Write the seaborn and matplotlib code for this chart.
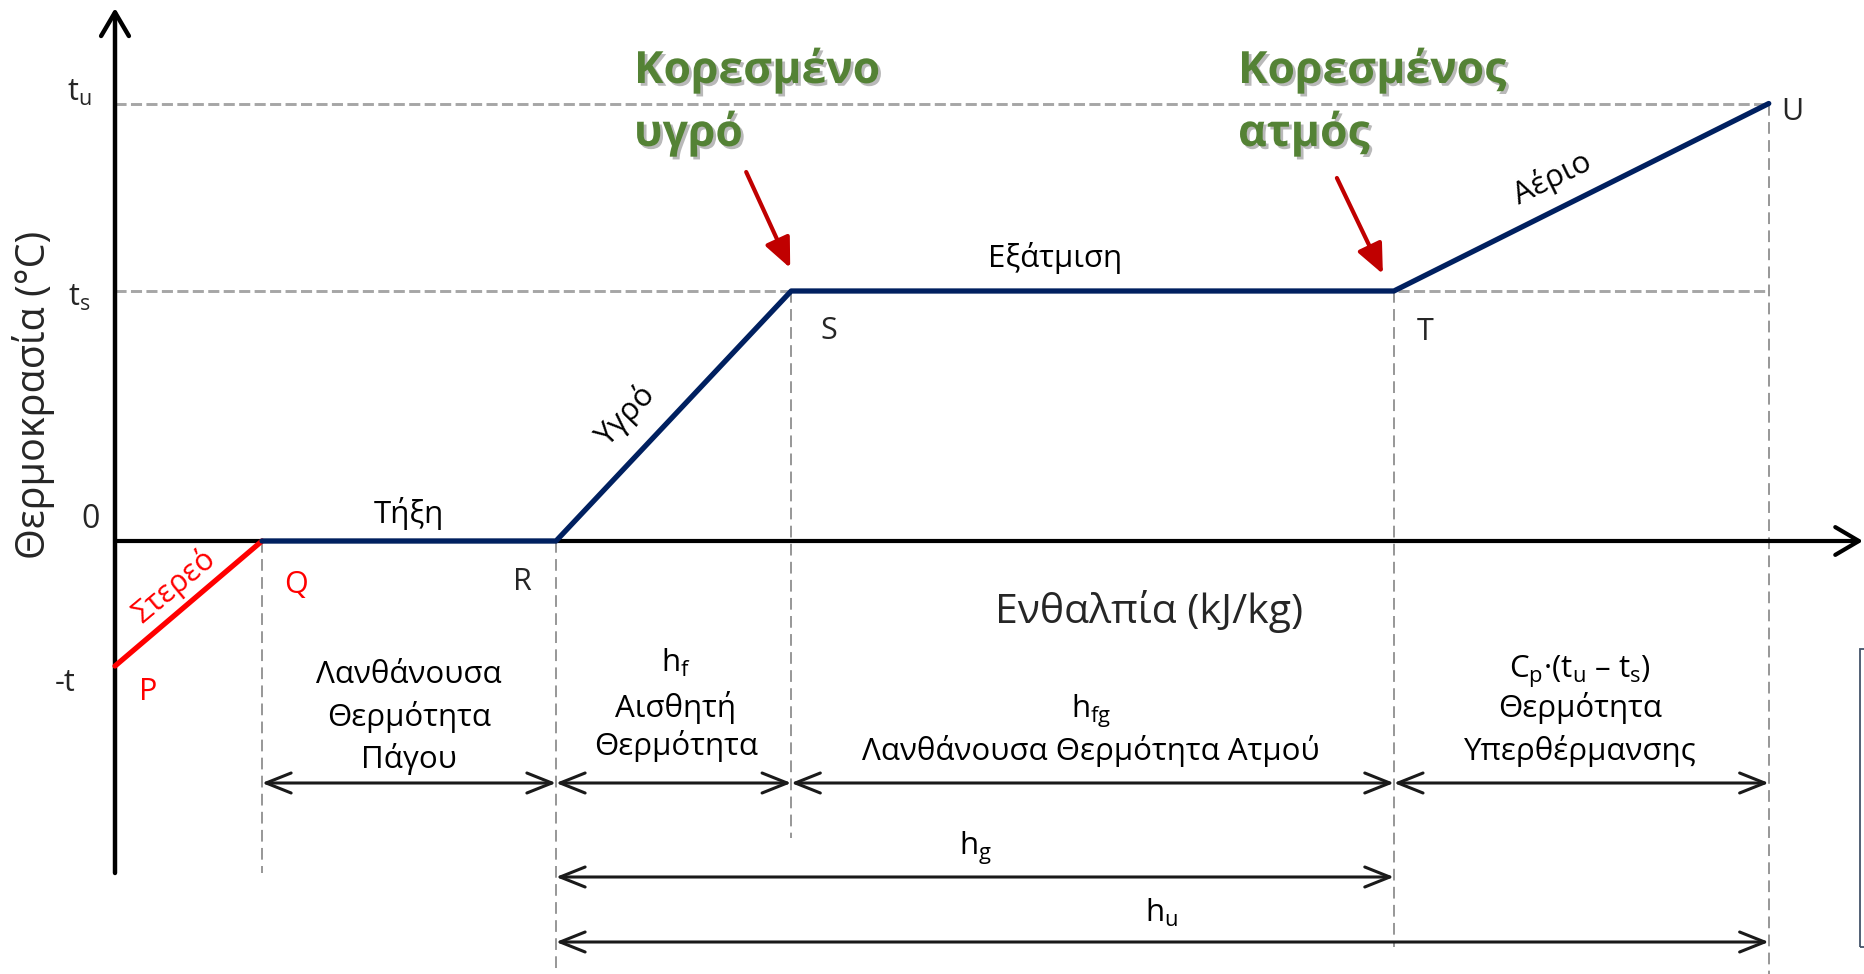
import numpy as np
import pandas as pd
import matplotlib
matplotlib.use("Agg")
import matplotlib.pyplot as plt
import seaborn as sns
from matplotlib import patheffects as pe
from matplotlib.patches import Rectangle

# ---------------- data ----------------
points = ["P", "Q", "R", "S", "T", "U"]
enthalpy = [0, 20, 60, 92, 174, 225]          # arbitrary enthalpy units
temperature = [-20, 0, 0, 40, 40, 70]         # arbitrary temperature units
phase_labels = ["Στερεό", "Τήξη", "Υγρό", "Εξάτμιση", "Αέριο"]
temp_labels = ["-t", "0", r"$\mathregular{t_s}$", r"$\mathregular{t_u}$"]
sat_labels = [("Κορεσμένο", "υγρό"), ("Κορεσμένος", "ατμός")]

sns.set_theme(style="white")
plt.rcParams["font.family"] = ["Open Sans", "DejaVu Sans"]
plt.rcParams["mathtext.fontset"] = "custom"
plt.rcParams["mathtext.rm"] = "Open Sans"

# layout scale (reference pixels per data unit) and origin in reference pixels
SX, SY = 7.35, 6.25
OX, OY = 115, 541
W, H = 1865, 974


def D(xp, yp):
    return (xp - OX) / SX, (OY - yp) / SY


fig = plt.figure(figsize=(W / 100, H / 100), dpi=100)
ax = fig.add_axes([0, 0, 1, 1])
ax.set_xlim(D(0, 0)[0], D(W, 0)[0])
ax.set_ylim(D(0, H)[1], D(0, 0)[1])
ax.axis("off")

hP, hQ, hR, hS, hT, hU = enthalpy
tP, tQ, tR, tS, tT, tU = temperature

DASH_H = dict(color="#a6a6a6", lw=2.1, linestyle=(0, (3.8, 1.5)), zorder=1)
DASH_V = dict(color="#8f8f8f", lw=1.3, linestyle=(0, (6.5, 3.5)), zorder=1)

# horizontal guides
ax.plot([0, hU], [tS, tS], **DASH_H)
ax.plot([0, hU], [tU, tU], **DASH_H)
# vertical guides
ybot = D(0, H)[1]
ax.plot([hQ, hQ], [0, D(0, 873)[1]], **DASH_V)
ax.plot([hR, hR], [0, ybot], **DASH_V)
ax.plot([hS, hS], [tS, D(0, 838)[1]], **DASH_V)
ax.plot([hT, hT], [tT, D(0, 947)[1]], **DASH_V)
ax.plot([hU, hU], [tU, ybot], **DASH_V)

# axes with arrows
ax.annotate("", xy=(0, D(0, 8)[1]), xytext=(0, D(0, 873)[1]),
            arrowprops=dict(arrowstyle="->,head_length=0.85,head_width=0.5",
                            mutation_scale=20, lw=3.2, color="black",
                            shrinkA=0, shrinkB=0), zorder=3)
ax.annotate("", xy=(D(1863, 0)[0], 0), xytext=(0, 0),
            arrowprops=dict(arrowstyle="->,head_length=0.85,head_width=0.5",
                            mutation_scale=20, lw=3.0, color="black",
                            shrinkA=0, shrinkB=0), zorder=3)

# heating curve
df = pd.DataFrame({"h": enthalpy, "t": temperature, "pt": points})
sns.lineplot(data=df.iloc[:2], x="h", y="t", color="#ff0000", lw=3.8,
             sort=False, estimator=None, ax=ax, zorder=4)
sns.lineplot(data=df.iloc[1:], x="h", y="t", color="#002060", lw=3.8,
             sort=False, estimator=None, ax=ax, zorder=4)
ax.set_xlabel("")
ax.set_ylabel("")

FS = 22.5
txt = dict(color="black", fontsize=FS)

# temperature labels
ax.text(*D(65, 683), temp_labels[0], ha="center", va="center", fontsize=22)
ax.text(*D(91, 520), temp_labels[1], ha="center", va="center", fontsize=23)
ax.text(*D(79, 298), temp_labels[2], ha="center", va="center", fontsize=22)
ax.text(*D(79, 93), temp_labels[3], ha="center", va="center", fontsize=22)
ax.text(*D(34, 395), "Θερμοκρασία (°C)", rotation=90, ha="center",
        va="center", fontsize=28.5)

# point letters
PFS = 22
ax.text(*D(148, 692), "P", ha="center", va="center", color="#ff0000", fontsize=PFS)
ax.text(*D(296, 585), "Q", ha="center", va="center", color="#ff0000", fontsize=PFS)
ax.text(*D(522, 582), "R", ha="center", va="center", fontsize=PFS)
ax.text(*D(829, 331), "S", ha="center", va="center", fontsize=PFS)
ax.text(*D(1425, 332), "T", ha="center", va="center", fontsize=PFS)
ax.text(*D(1792, 112), "U", ha="center", va="center", fontsize=PFS)

# phase labels
ax.text(*D(174, 586), phase_labels[0], rotation=39.7, rotation_mode="anchor",
        ha="center", va="center", color="#ff0000", fontsize=22)
ax.text(*D(409, 523), phase_labels[1], ha="center", va="baseline", **txt)
ax.text(*D(626, 415), phase_labels[2], rotation=46.6, rotation_mode="anchor",
        ha="center", va="center", **txt)
ax.text(*D(1055, 267), phase_labels[3], ha="center", va="baseline", **txt)
ax.text(*D(1552, 178), phase_labels[4], rotation=26.1, rotation_mode="anchor",
        ha="center", va="center", **txt)

# x axis title
ax.text(*D(1149, 623), "Ενθαλπία (kJ/kg)", ha="center", va="baseline", fontsize=29.5)

# region descriptions
for y, s in zip([683, 726, 768], ["Λανθάνουσα", "Θερμότητα", "Πάγου"]):
    ax.text(*D(409, y), s, ha="center", va="baseline", **txt)
for y, s in zip([672, 717, 755], [r"$\mathregular{h_f}$", "Αισθητή", "Θερμότητα"]):
    ax.text(*D(676, y), s, ha="center", va="baseline", **txt)
for y, s in zip([718, 760], [r"$\mathregular{h_{fg}}$", "Λανθάνουσα Θερμότητα Ατμού"]):
    ax.text(*D(1091, y), s, ha="center", va="baseline", **txt)
for y, s in zip([678, 717, 760],
                [r"$\mathregular{C_p}$·($\mathregular{t_u}$ – $\mathregular{t_s}$)",
                 "Θερμότητα", "Υπερθέρμανσης"]):
    ax.text(*D(1580, y), s, ha="center", va="baseline", **txt)
ax.text(*D(975, 855), r"$\mathregular{h_g}$", ha="center", va="baseline", **txt)
ax.text(*D(1162, 922), r"$\mathregular{h_u}$", ha="center", va="baseline", **txt)

# dimension arrows
DIM = dict(arrowstyle="<->,head_length=0.9,head_width=0.36", mutation_scale=20,
           lw=2.2, color="#1a1a1a", shrinkA=0, shrinkB=0)
y1, y2, y3 = D(0, 783)[1], D(0, 877)[1], D(0, 942)[1]
for a, b in [(hQ, hR), (hR, hS), (hS, hT), (hT, hU)]:
    ax.annotate("", xy=(b, y1), xytext=(a, y1), arrowprops=DIM)
ax.annotate("", xy=(hT, y2), xytext=(hR, y2), arrowprops=DIM)
ax.annotate("", xy=(hU, y3), xytext=(hR, y3), arrowprops=DIM)

# saturated state annotations
GREEN = "#548235"
shadow = [pe.withSimplePatchShadow(offset=(2, -2), shadow_rgbFace="#808080", alpha=0.55)]
for xl, (l1, l2) in zip([634, 1238], sat_labels):
    ax.text(*D(xl, 83), l1, ha="left", va="baseline", color=GREEN, fontsize=32,
            fontweight="bold", path_effects=shadow)
    ax.text(*D(xl, 146), l2, ha="left", va="baseline", color=GREEN, fontsize=32,
            fontweight="bold", path_effects=shadow)

RED = dict(arrowstyle="-|>,head_length=0.9,head_width=0.4", mutation_scale=20,
           lw=3.0, color="#c00000", shrinkA=0, shrinkB=0)
ax.annotate("", xy=(hS - 1 / SX, tS + 23 / SY), xytext=(-44, 96),
            textcoords="offset pixels", arrowprops=RED)
ax.annotate("", xy=(hT - 11 / SX, tT + 17 / SY), xytext=(-46, 96),
            textcoords="offset pixels", arrowprops=RED)

# partial frame at the right edge
x0, yb = D(1860, 947)
ax.add_patch(Rectangle((x0, yb), 60 / SX, (947 - 649) / SY, fill=False,
                       ec="#44546a", lw=1.3, clip_on=False))

fig.savefig("out.png", dpi=100)
